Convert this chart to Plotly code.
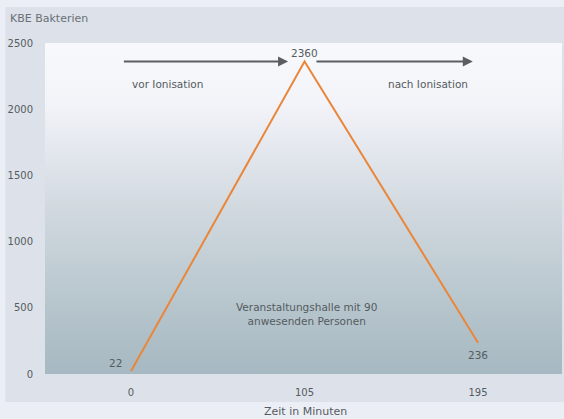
import plotly.graph_objects as go

# ---- data ----
times = ["0", "105", "195"]
kbe = [22, 2360, 236]
y_ticks = [0, 500, 1000, 1500, 2000, 2500]
y_title = "KBE Bakterien"
x_title = "Zeit in Minuten"
label_before = "vor Ionisation"
label_after = "nach Ionisation"
note_text = "Veranstaltungshalle mit 90<br>anwesenden Personen"

FONT = "DejaVu Sans"
TXT = "#555b60"
W, H = 564, 419
ML, MR, MT, MB = 45, 2, 43, 45

xi = list(range(len(times)))  # category positions
ymax = y_ticks[-1]

fig = go.Figure()
# gradient background of the plot area
fig.add_trace(go.Scatter(
    x=[-1, 4, 4, -1, -1], y=[0, 0, ymax, ymax, 0],
    mode="lines", line=dict(width=0), fill="toself",
    fillgradient=dict(type="vertical", start=0, stop=ymax,
                      colorscale=[[0, "rgb(166,184,193)"],
                                  [0.25, "rgb(186,200,207)"],
                                  [0.5, "rgb(209,217,223)"],
                                  [0.7, "rgb(230,233,240)"],
                                  [0.82, "rgb(243,244,249)"],
                                  [1, "rgb(248,249,252)"]]),
    hoverinfo="skip", showlegend=False,
))
fig.add_trace(go.Scatter(
    x=xi, y=kbe, mode="lines",
    line=dict(color="#ea863a", width=2),
    hoverinfo="skip", showlegend=False,
))

shapes = [dict(type="rect", xref="paper", yref="paper",
               x0=-0.077, x1=1.01, y0=-0.0846, y1=1.109,
               fillcolor="#dde2ea", line=dict(width=0), layer="below")]

ann = []
f = dict(family=FONT, size=10.5, color=TXT)
ann.append(dict(x=xi[1], y=kbe[1], text=str(kbe[1]), showarrow=False,
                yanchor="bottom", yshift=1, font=f))
ann.append(dict(x=xi[0], y=kbe[0], text=str(kbe[0]), showarrow=False,
                xanchor="right", xshift=-7, yshift=8, font=f))
ann.append(dict(x=xi[2], y=kbe[2], text=str(kbe[2]), showarrow=False,
                yshift=-12, font=f))
for (x0, x1) in [(-0.05, 0.905), (1.06, 1.97)]:
    ann.append(dict(x=x1, y=kbe[1], ax=x0, ay=kbe[1], xref="x", yref="y",
                    axref="x", ayref="y", text="", showarrow=True,
                    arrowhead=2, arrowsize=1, arrowwidth=2,
                    arrowcolor="#5a5e62"))
ann.append(dict(x=0.21, y=2190, text=label_before, showarrow=False, font=f))
ann.append(dict(x=1.71, y=2190, text=label_after, showarrow=False, font=f))
ann.append(dict(x=1.01, y=455, text=note_text, showarrow=False,
                font=dict(family=FONT, size=10.5, color=TXT)))
ann.append(dict(xref="paper", yref="paper", x=-0.0716, y=1.0755,
                xanchor="left", yanchor="middle", text=y_title,
                showarrow=False, font=dict(family=FONT, size=11, color="#6a7075")))
ann.append(dict(xref="paper", yref="paper", x=0.503, y=-0.112,
                xanchor="center", yanchor="middle", text=x_title,
                showarrow=False, font=dict(family=FONT, size=11, color=TXT)))

fig.update_layout(
    width=W, height=H, autosize=False,
    margin=dict(l=ML, r=MR, t=MT, b=MB, pad=0),
    paper_bgcolor="#eceef5",
    plot_bgcolor="rgba(0,0,0,0)",
    shapes=shapes, annotations=ann,
    font=dict(family=FONT, size=10, color=TXT),
    xaxis=dict(range=[-0.496, 2.484], tickvals=xi, ticktext=times,
               showgrid=True, gridcolor="rgba(140,150,160,0.3)", gridwidth=1,
               zeroline=False, showline=False,
               ticks="outside", ticklen=9, tickcolor="rgba(0,0,0,0)",
               tickfont=dict(family=FONT, size=10, color=TXT)),
    yaxis=dict(range=[0, ymax], tickvals=y_ticks,
               showgrid=False, zeroline=False, showline=False,
               ticks="outside", ticklen=9, tickcolor="rgba(0,0,0,0)",
               tickfont=dict(family=FONT, size=10, color=TXT)),
    showlegend=False,
)

fig.write_html("out.html", config={"displayModeBar": False},
               post_script="document.body.style.margin='0';document.body.style.overflow='hidden';")
